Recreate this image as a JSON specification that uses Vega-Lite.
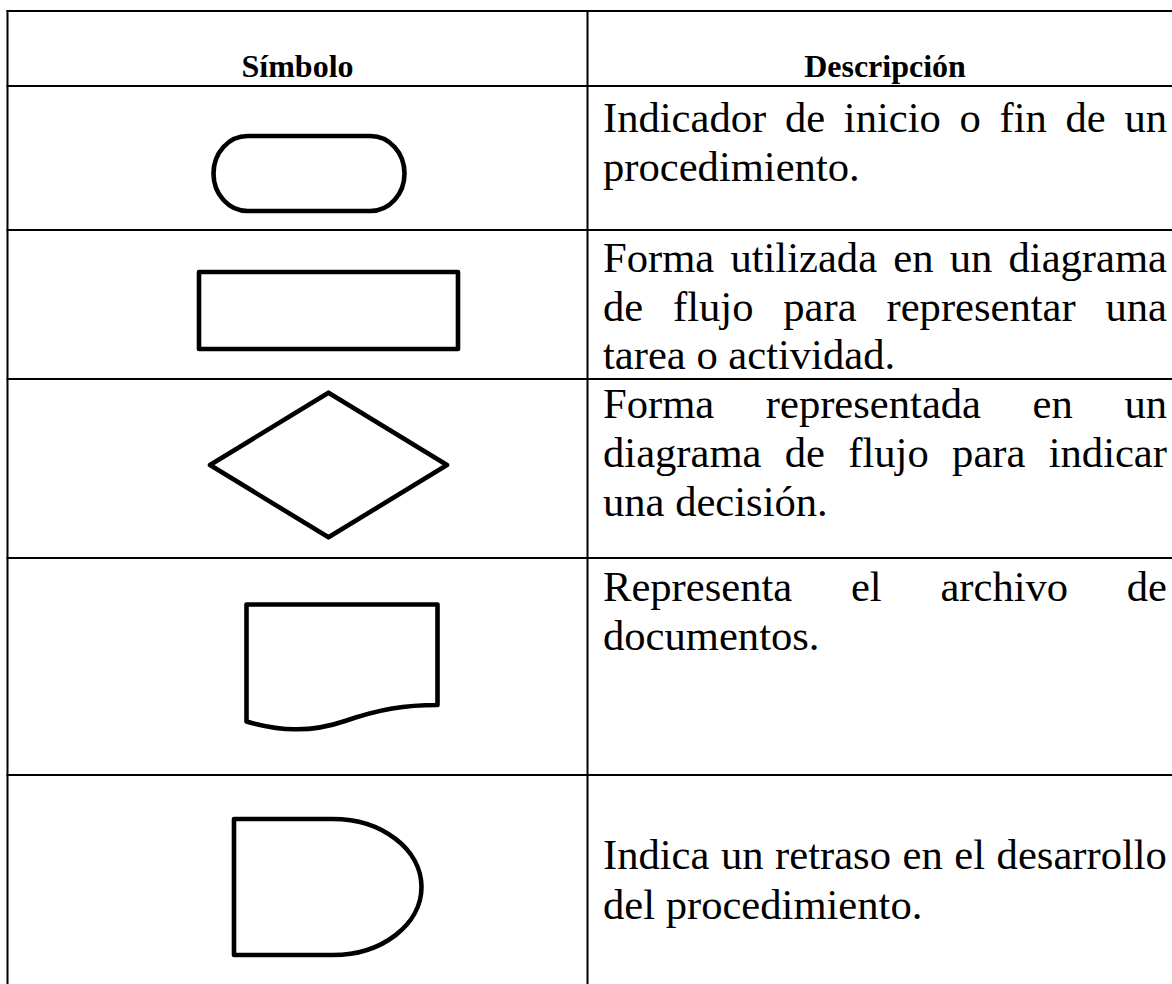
{
  "$schema": "https://vega.github.io/schema/vega-lite/v6.json",
  "width": 1172,
  "height": 984,
  "autosize": "none",
  "padding": 0,
  "background": "white",
  "config": {"view": {"stroke": null}},
  "datasets": {
    "grid": [
      {"x1": 6.5, "x2": 1172, "y1": 11, "y2": 11},
      {"x1": 6.5, "x2": 1172, "y1": 86, "y2": 86},
      {"x1": 6.5, "x2": 1172, "y1": 230, "y2": 230},
      {"x1": 6.5, "x2": 1172, "y1": 379, "y2": 379},
      {"x1": 6.5, "x2": 1172, "y1": 558, "y2": 558},
      {"x1": 6.5, "x2": 1172, "y1": 775, "y2": 775},
      {"x1": 7.5, "x2": 7.5, "y1": 10, "y2": 984},
      {"x1": 587.5, "x2": 587.5, "y1": 10, "y2": 984}
    ],
    "symbols": [
      {"symbol": "terminal", "x": 309, "y": 173.5},
      {"symbol": "proceso", "x": 328.5, "y": 310.5},
      {"symbol": "decision", "x": 328.5, "y": 465},
      {"symbol": "documento", "x": 342, "y": 665},
      {"symbol": "retraso", "x": 328, "y": 887}
    ],
    "header": [
      {"text": "Símbolo", "x": 297.5, "y": 77},
      {"text": "Descripción", "x": 885, "y": 77}
    ],
    "body": [
      {"text": "Indicador", "x": 603, "y": 132},
      {"text": "de", "x": 784.9, "y": 132},
      {"text": "inicio", "x": 843.8, "y": 132},
      {"text": "o", "x": 959.5, "y": 132},
      {"text": "fin", "x": 999.5, "y": 132},
      {"text": "de", "x": 1065.5, "y": 132},
      {"text": "un", "x": 1124.4, "y": 132},
      {"text": "procedimiento.", "x": 603, "y": 181},
      {"text": "Forma", "x": 603, "y": 272},
      {"text": "utilizada", "x": 730.4, "y": 272},
      {"text": "en", "x": 893.3, "y": 272},
      {"text": "un", "x": 949.7, "y": 272},
      {"text": "diagrama", "x": 1008.5, "y": 272},
      {"text": "de", "x": 603, "y": 321},
      {"text": "flujo", "x": 673.0, "y": 321},
      {"text": "para", "x": 783.3, "y": 321},
      {"text": "representar", "x": 886.5, "y": 321},
      {"text": "una", "x": 1105.5, "y": 321},
      {"text": "tarea o actividad.", "x": 603, "y": 369},
      {"text": "Forma", "x": 603, "y": 418},
      {"text": "representada", "x": 765.8, "y": 418},
      {"text": "en", "x": 1032.6, "y": 418},
      {"text": "un", "x": 1124.4, "y": 418},
      {"text": "diagrama", "x": 603, "y": 467},
      {"text": "de", "x": 784.8, "y": 467},
      {"text": "flujo", "x": 848.3, "y": 467},
      {"text": "para", "x": 952.1, "y": 467},
      {"text": "indicar", "x": 1048.7, "y": 467},
      {"text": "una decisión.", "x": 603, "y": 516},
      {"text": "Representa", "x": 603, "y": 601},
      {"text": "el", "x": 850.9, "y": 601},
      {"text": "archivo", "x": 940.4, "y": 601},
      {"text": "de", "x": 1126.8, "y": 601},
      {"text": "documentos.", "x": 603, "y": 650},
      {"text": "Indica", "x": 603, "y": 869},
      {"text": "un", "x": 721.0, "y": 869},
      {"text": "retraso", "x": 775.1, "y": 869},
      {"text": "en", "x": 902.6, "y": 869},
      {"text": "el", "x": 954.3, "y": 869},
      {"text": "desarrollo", "x": 996.6, "y": 869},
      {"text": "del procedimiento.", "x": 603, "y": 919}
    ]
  },
  "layer": [
    {
      "data": {"name": "grid"},
      "mark": {"type": "rule", "color": "black", "strokeWidth": 2},
      "encoding": {
        "x": {"field": "x1", "type": "quantitative", "scale": {"domain": [0, 1172], "nice": false, "zero": false}, "axis": null},
        "x2": {"field": "x2"},
        "y": {"field": "y1", "type": "quantitative", "scale": {"domain": [0, 984], "nice": false, "zero": false, "reverse": true}, "axis": null},
        "y2": {"field": "y2"}
      }
    },
    {
      "data": {"name": "symbols"},
      "mark": {"type": "point", "filled": false, "color": "black", "opacity": 1, "strokeWidth": 4.6, "strokeJoin": "round", "size": 90000},
      "encoding": {
        "x": {"field": "x", "type": "quantitative", "scale": {"domain": [0, 1172], "nice": false, "zero": false}, "axis": null},
        "y": {"field": "y", "type": "quantitative", "scale": {"domain": [0, 984], "nice": false, "zero": false, "reverse": true}, "axis": null},
        "shape": {
          "field": "symbol",
          "type": "nominal",
          "legend": null,
          "scale": {
            "domain": ["terminal", "proceso", "decision", "documento", "retraso"],
            "range": [
              "M -0.41 -0.25 L 0.41 -0.25 C 0.5352 -0.25 0.6367 -0.1381 0.6367 0 C 0.6367 0.1381 0.5352 0.25 0.41 0.25 L -0.41 0.25 C -0.5352 0.25 -0.6367 0.1381 -0.6367 0 C -0.6367 -0.1381 -0.5352 -0.25 -0.41 -0.25 Z",
              "M -0.8633 -0.2567 L 0.8633 -0.2567 L 0.8633 0.2567 L -0.8633 0.2567 Z",
              "M 0 -0.482 L 0.79 0 L 0 0.482 L -0.79 0 Z",
              "M -0.6367 -0.4033 L 0.6367 -0.4033 L 0.6367 0.2667 C 0.42 0.2667 0.2533 0.2933 0.02 0.3733 C -0.2133 0.4533 -0.4133 0.44 -0.6367 0.3767 Z",
              "M -0.6267 -0.4533 L 0.0333 -0.4533 C 0.3592 -0.4533 0.6233 -0.2504 0.6233 0 C 0.6233 0.2504 0.3592 0.4533 0.0333 0.4533 L -0.6267 0.4533 Z"
            ]
          }
        }
      }
    },
    {
      "data": {"name": "header"},
      "mark": {"type": "text", "font": "Liberation Serif", "fontWeight": "bold", "fontSize": 32, "align": "center", "baseline": "alphabetic", "color": "black"},
      "encoding": {
        "x": {"field": "x", "type": "quantitative", "scale": {"domain": [0, 1172], "nice": false, "zero": false}, "axis": null},
        "y": {"field": "y", "type": "quantitative", "scale": {"domain": [0, 984], "nice": false, "zero": false, "reverse": true}, "axis": null},
        "text": {"field": "text", "type": "nominal"}
      }
    },
    {
      "data": {"name": "body"},
      "mark": {"type": "text", "font": "Liberation Serif", "fontSize": 42.6, "align": "left", "baseline": "alphabetic", "color": "black"},
      "encoding": {
        "x": {"field": "x", "type": "quantitative", "scale": {"domain": [0, 1172], "nice": false, "zero": false}, "axis": null},
        "y": {"field": "y", "type": "quantitative", "scale": {"domain": [0, 984], "nice": false, "zero": false, "reverse": true}, "axis": null},
        "text": {"field": "text", "type": "nominal"}
      }
    }
  ]
}
